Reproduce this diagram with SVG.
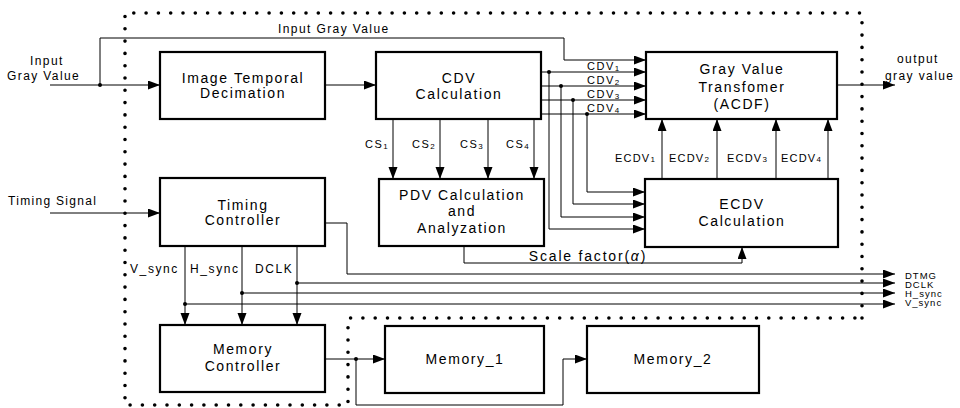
<svg xmlns="http://www.w3.org/2000/svg" width="960" height="408" viewBox="0 0 960 408">
<defs>
<marker id="ah" markerUnits="userSpaceOnUse" markerWidth="13" markerHeight="10" refX="12" refY="4.5" orient="auto">
<path d="M0,0 L12,4.5 L0,9 z" fill="#000"/>
</marker>
<style>
.box{fill:#fff;stroke:#000;stroke-width:2.2}
.ln{fill:none;stroke:#000;stroke-width:1}
.arr{fill:none;stroke:#000;stroke-width:1;marker-end:url(#ah)}
.dot{fill:#000}
.bt{font-family:"Liberation Sans",Arial,sans-serif;font-size:14px;letter-spacing:1.6px;text-anchor:middle;fill:#000}
.st{font-family:"Liberation Sans",Arial,sans-serif;font-size:11px;letter-spacing:1.5px;fill:#000}
.mt{font-family:"Liberation Sans",Arial,sans-serif;font-size:12px;letter-spacing:1.4px;fill:#000}
.ot{font-family:"Liberation Sans",Arial,sans-serif;font-size:9.5px;letter-spacing:1px;fill:#000}
.sub{font-size:8px}
.border{fill:none;stroke:#000;stroke-width:3.6;stroke-linecap:round;stroke-dasharray:0 12.3}
</style>
</defs>
<rect width="960" height="408" fill="#fff"/>
<path class="border" d="M862,318 L862,13 L125,13 L125,405 L348,405 L348,318 L862,318"/>
<g id="connectors">
<path class="arr" d="M50,85 L160,85"/>
<circle class="dot" cx="100" cy="85" r="2"/>
<path class="arr" d="M100,85 L100,38 L564,38 L564,60 L646,60"/>
<path class="arr" d="M325,85 L376,85"/>
<path class="arr" d="M541,72 L646,72"/>
<path class="arr" d="M541,86 L646,86"/>
<path class="arr" d="M541,100 L646,100"/>
<path class="arr" d="M541,114 L646,114"/>
<circle class="dot" cx="549" cy="72" r="2"/>
<circle class="dot" cx="561" cy="86" r="2"/>
<circle class="dot" cx="573" cy="100" r="2"/>
<circle class="dot" cx="587" cy="114" r="2"/>
<path class="arr" d="M549,72 L549,229 L645,229"/>
<path class="arr" d="M561,86 L561,217 L645,217"/>
<path class="arr" d="M573,100 L573,204 L645,204"/>
<path class="arr" d="M587,114 L587,192 L645,192"/>
<path class="arr" d="M393,119 L393,179"/>
<path class="arr" d="M440,119 L440,179"/>
<path class="arr" d="M488,119 L488,179"/>
<path class="arr" d="M534,119 L534,179"/>
<path class="arr" d="M662,179 L662,119"/>
<path class="arr" d="M717,179 L717,119"/>
<path class="arr" d="M776,179 L776,119"/>
<path class="arr" d="M828,179 L828,119"/>
<path class="arr" d="M837,85 L895,85"/>
<path class="arr" d="M50,213 L160,213"/>
<path class="arr" d="M325,223 L347,223 L347,274 L895,274"/>
<path class="arr" d="M185,246 L185,325"/>
<path class="arr" d="M242,246 L242,325"/>
<path class="arr" d="M297,246 L297,325"/>
<circle class="dot" cx="297" cy="283" r="2"/>
<circle class="dot" cx="242" cy="293" r="2"/>
<circle class="dot" cx="185" cy="304" r="2"/>
<path class="arr" d="M297,283 L895,283"/>
<path class="arr" d="M242,293 L895,293"/>
<path class="arr" d="M185,304 L895,304"/>
<path class="arr" d="M464,246 L464,263 L742,263 L742,247"/>
<path class="arr" d="M325,359 L385,359"/>
<circle class="dot" cx="356" cy="359" r="2"/>
<path class="arr" d="M356,359 L356,405 L563,405 L563,359 L587,359"/>
</g>
<g id="labels">
<text class="mt" x="30" y="65">Input</text>
<text class="mt" x="7" y="80">Gray Value</text>
<text class="mt" x="278" y="33">Input Gray Value</text>
<text class="mt" x="8" y="205" style="letter-spacing:1.3px">Timing Signal</text>
<text class="mt" x="897" y="63">output</text>
<text class="mt" x="885" y="80">gray value</text>
<text class="st" x="587" y="70">CDV<tspan class="sub" dy="1">1</tspan></text>
<text class="st" x="587" y="84">CDV<tspan class="sub" dy="1">2</tspan></text>
<text class="st" x="587" y="98">CDV<tspan class="sub" dy="1">3</tspan></text>
<text class="st" x="587" y="112">CDV<tspan class="sub" dy="1">4</tspan></text>
<text class="st" x="365" y="148">CS<tspan class="sub" dy="1">1</tspan></text>
<text class="st" x="412" y="148">CS<tspan class="sub" dy="1">2</tspan></text>
<text class="st" x="460" y="148">CS<tspan class="sub" dy="1">3</tspan></text>
<text class="st" x="506" y="148">CS<tspan class="sub" dy="1">4</tspan></text>
<text class="st" x="615" y="162" style="letter-spacing:1.2px">ECDV<tspan class="sub">1</tspan></text>
<text class="st" x="669" y="162" style="letter-spacing:1.2px">ECDV<tspan class="sub">2</tspan></text>
<text class="st" x="727" y="162" style="letter-spacing:1.2px">ECDV<tspan class="sub">3</tspan></text>
<text class="st" x="781" y="162" style="letter-spacing:1.2px">ECDV<tspan class="sub">4</tspan></text>
<text class="mt" x="130" y="273" style="letter-spacing:1.6px">V_sync</text>
<text class="mt" x="190" y="273" style="letter-spacing:1.6px">H_sync</text>
<text class="mt" x="255" y="273" style="letter-spacing:1.6px">DCLK</text>
<text class="bt" x="588" y="261" style="letter-spacing:1.8px">Scale factor(<tspan font-style="italic">α</tspan>)</text>
<text class="ot" x="905" y="279">DTMG</text>
<text class="ot" x="905" y="288">DCLK</text>
<text class="ot" x="905" y="297">H_sync</text>
<text class="ot" x="905" y="306">V_sync</text>
</g>
<g id="itd">
<rect class="box" x="160" y="52" width="165" height="67"/>
<text class="bt" x="243" y="83">Image Temporal</text>
<text class="bt" x="243" y="98">Decimation</text>
</g>
<g id="cdv">
<rect class="box" x="376" y="52" width="165" height="67"/>
<text class="bt" x="459" y="83">CDV</text>
<text class="bt" x="459" y="99">Calculation</text>
</g>
<g id="gvt">
<rect class="box" x="646" y="52" width="191" height="67"/>
<text class="bt" x="742" y="74">Gray Value</text>
<text class="bt" x="742" y="92">Transfomer</text>
<text class="bt" x="742" y="109">(ACDF)</text>
</g>
<g id="tc">
<rect class="box" x="160" y="178" width="165" height="68"/>
<text class="bt" x="243" y="210">Timing</text>
<text class="bt" x="243" y="225">Controller</text>
</g>
<g id="pdv">
<rect class="box" x="379" y="179" width="165" height="67"/>
<text class="bt" x="462" y="200">PDV Calculation</text>
<text class="bt" x="462" y="216">and</text>
<text class="bt" x="462" y="233">Analyzation</text>
</g>
<g id="ecdv">
<rect class="box" x="645" y="179" width="193" height="68"/>
<text class="bt" x="742" y="209">ECDV</text>
<text class="bt" x="742" y="226">Calculation</text>
</g>
<g id="mc">
<rect class="box" x="160" y="325" width="165" height="67"/>
<text class="bt" x="243" y="354">Memory</text>
<text class="bt" x="243" y="371">Controller</text>
</g>
<g id="mem1">
<rect class="box" x="385" y="326" width="159" height="67"/>
<text class="bt" x="465" y="364">Memory_1</text>
</g>
<g id="mem2">
<rect class="box" x="587" y="326" width="172" height="67"/>
<text class="bt" x="673" y="364">Memory_2</text>
</g>
</svg>
